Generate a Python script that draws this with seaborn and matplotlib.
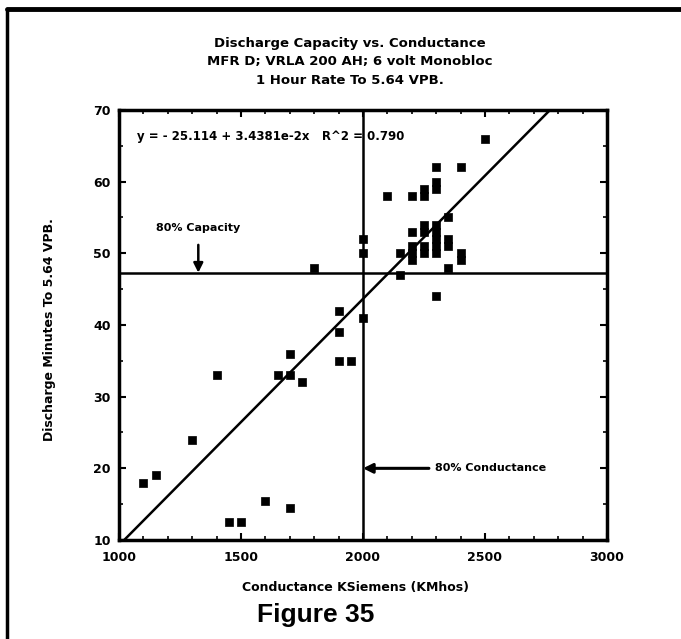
import numpy as np
import pandas as pd
import matplotlib
matplotlib.use("Agg")
import matplotlib.pyplot as plt
from matplotlib.lines import Line2D
from matplotlib.ticker import MultipleLocator
import seaborn as sns

# ---- data ----
conductance = [1100, 1150, 1300, 1400, 1450, 1500, 1600, 1650, 1700, 1700, 1700, 1750,
               1800, 1900, 1900, 1900, 1950, 2000, 2000, 2000,
               2100, 2150, 2150, 2200, 2200, 2200, 2200, 2200,
               2250, 2250, 2250, 2250, 2250, 2250,
               2300, 2300, 2300, 2300, 2300, 2300, 2300, 2300, 2300,
               2350, 2350, 2350, 2350, 2400, 2400, 2400, 2500]
minutes = [18, 19, 24, 33, 12.5, 12.5, 15.5, 33, 36, 33, 14.5, 32,
           48, 42, 39, 35, 35, 41, 50, 52,
           58, 50, 47, 58, 53, 51, 50, 49,
           59, 58, 54, 53, 51, 50,
           62, 60, 59, 54, 53, 52, 51, 50, 44,
           55, 52, 51, 48, 62, 50, 49, 66]

fit_intercept = -25.114
fit_slope = 3.4381e-2
capacity_80 = 47.3
conductance_80 = 2000

title_lines = ["Discharge Capacity vs. Conductance",
               "MFR D; VRLA 200 AH; 6 volt Monobloc",
               "1 Hour Rate To 5.64 VPB."]
x_label = "Conductance KSiemens (KMhos)"
y_label = "Discharge Minutes To 5.64 VPB."
equation_text = "y = - 25.114 + 3.4381e-2x   R^2 = 0.790"

df = pd.DataFrame({"x": conductance, "y": minutes})

sns.set_theme(style="ticks")
plt.rcParams["font.family"] = ["DejaVu Sans"]
plt.rcParams.update({"text.color": "black", "axes.labelcolor": "black",
                     "xtick.color": "black", "ytick.color": "black",
                     "xtick.labelcolor": "black", "ytick.labelcolor": "black"})

W, H = 681, 639
fig = plt.figure(figsize=(W / 100, H / 100), dpi=100)
ax = fig.add_axes([119 / W, 1 - 540 / H, (607 - 119) / W, (540 - 110) / H])

sns.scatterplot(data=df, x="x", y="y", marker="s", s=38, color="black",
                edgecolor="black", linewidth=0.5, ax=ax, zorder=3)

# regression line from shown equation
xf = np.array([1000.0, 3000.0])
sns.lineplot(x=xf, y=fit_intercept + fit_slope * xf, color="black", lw=1.8, ax=ax)

ax.axhline(capacity_80, color="black", lw=1.8)
ax.axvline(conductance_80, color="black", lw=1.8)

ax.set_xlim(1000, 3000)
ax.set_ylim(10, 70)
ax.xaxis.set_major_locator(MultipleLocator(500))
ax.xaxis.set_minor_locator(MultipleLocator(100))
ax.yaxis.set_major_locator(MultipleLocator(10))
ax.yaxis.set_minor_locator(MultipleLocator(5))
ax.tick_params(which="both", direction="in", top=True, right=True, color="black")
ax.tick_params(which="major", length=5, width=1.5, labelsize=9)
ax.tick_params(axis="x", which="major", pad=8)
ax.tick_params(axis="y", which="major", pad=6)
ax.tick_params(which="minor", length=3, width=1.2)
for lab in ax.get_xticklabels() + ax.get_yticklabels():
    lab.set_fontweight("bold")
for sp in ax.spines.values():
    sp.set_linewidth(2.5)
    sp.set_color("black")
ax.set_xlabel("")
ax.set_ylabel("")

# annotations
ax.text(1075, 66.3, equation_text, fontsize=8.5, fontweight="bold", va="center", ha="left")
ax.annotate("80% Capacity", xy=(1325, capacity_80), xytext=(1325, 53.5),
            ha="center", va="center", fontsize=8, fontweight="bold",
            arrowprops=dict(arrowstyle="-|>", color="black", lw=1.8,
                            mutation_scale=14, shrinkA=6, shrinkB=0))
ax.annotate("80% Conductance", xy=(conductance_80, 20), xytext=(2295, 20),
            ha="left", va="center", fontsize=8, fontweight="bold",
            arrowprops=dict(arrowstyle="-|>", color="black", lw=2.2,
                            mutation_scale=14, shrinkA=2, shrinkB=0))

# titles and labels
for i, t in enumerate(title_lines):
    fig.text(350 / W, 1 - (43 + 19 * i) / H, t, ha="center", va="center",
             fontsize=9.5, fontweight="bold")
fig.text(355 / W, 1 - 588 / H, x_label, ha="center", va="center",
         fontsize=9, fontweight="bold")
fig.text(50 / W, 1 - 330 / H, y_label, ha="center", va="center", rotation=90,
         fontsize=9, fontweight="bold")
fig.text(316 / W, 1 - 615 / H, "Figure 35", ha="center", va="center",
         fontsize=19, fontweight="bold", family=["Liberation Sans", "DejaVu Sans"])

# outer frame
fig.add_artist(Line2D([7 / W, 7 / W], [0, 1 - 9 / H], color="black", lw=2.5,
                      transform=fig.transFigure))
fig.add_artist(Line2D([7 / W, 1], [1 - 9 / H, 1 - 9 / H], color="black", lw=3.5,
                      transform=fig.transFigure))

fig.savefig("out.png", dpi=100)
